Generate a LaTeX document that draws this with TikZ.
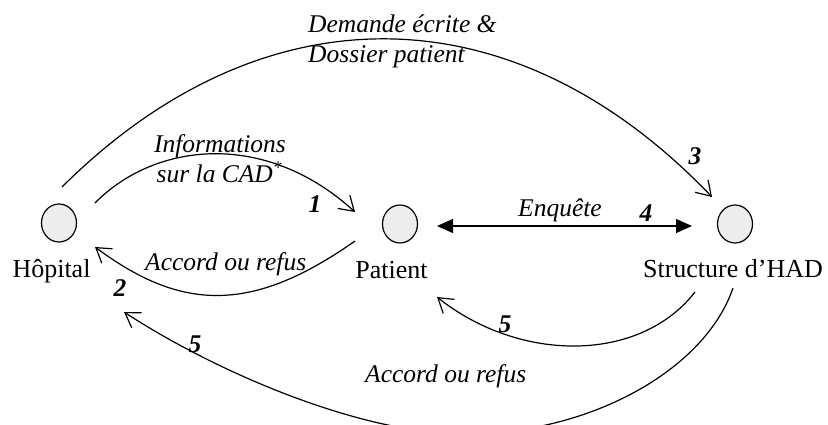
\documentclass[tikz,border=0pt]{standalone}
\usepackage{fontspec}
\setmainfont{Liberation Serif}
\usetikzlibrary{arrows.meta,calc,shapes.geometric}
\begin{document}
\begin{tikzpicture}[x=1pt,y=-1pt,
  place/.style={ellipse, draw, line width=1.2pt, fill=black!7,
    minimum width=35pt, minimum height=38pt, inner sep=0pt},
  actor/.style={font=\fontsize{26}{30}\selectfont, inner sep=0pt, anchor=base},
  says/.style={font=\fontsize{25.5}{30}\selectfont\itshape, inner sep=0pt},
  num/.style={font=\fontsize{25.5}{30}\selectfont\bfseries\itshape, inner sep=0pt, anchor=base},
  flow/.style={line width=1.2pt, -{Straight Barb[length=14pt,width=18pt,line width=1.2pt]}},
  link/.style={line width=1.2pt, {Triangle[length=16pt,width=14pt]}-{Triangle[length=16pt,width=14pt]}}]

\useasboundingbox (0,0) rectangle (828,425);
\clip (0,0) rectangle (828,425);

% the three parties
\node[place] (hop) at (59,223) {};
\node[place] (pat) at (400,224) {};
\node[place] (had) at (735,224) {};

\node[actor] (hopname) at (51.5,277) {Hôpital};
\node[actor] (patname) at (391.5,278) {Patient};
\node[actor] (hadname) at (733,277) {Structure d’HAD};

% 1: information given to the patient
\draw[flow] ($(hop)+(36,-20)$) .. controls (155,142) and (265,130) .. ($(pat)+(-45,-12)$);
\node[says, anchor=base] (info1) at (220,153) {Informations};
\node[says, anchor=base] (info2) at (219.5,183) {sur la CAD\textsuperscript{*}};
\node[num] (n1) at (315,212) {1};

% 2: patient's answer
\draw[flow] ($(pat)+(-45,17)$) .. controls (250,315) and (180,310) .. ($(hop)+(36,24)$);
\node[says, anchor=base west] (ans1) at (145,270) {Accord ou refus};
\node[num] (n2) at (120,296) {2};

% 3: written request to the HAD structure
\draw[flow] ($(hop)+(3,-36)$) .. controls (262,-12) and (512,-12) .. ($(had)+(-23,-27)$);
\node[says, anchor=base west] (req1) at (308,33) {Demande écrite \&};
\node[says, anchor=base west] (req2) at (308,63) {Dossier patient};
\node[num] (n3) at (695,165) {3};

% 4: inquiry between patient and HAD structure
\draw[link] ($(pat)+(37,2)$) -- ($(had)+(-43,2)$);
\node[says, anchor=base west] (inq) at (518,216) {Enquête};
\node[num] (n4) at (646,222) {4};

% 5: decision sent back to the patient and to the hospital
\draw[flow] ($(had)+(-40,68)$) .. controls (640,363) and (520,363) .. ($(pat)+(37,73)$);
\node[num] (n5a) at (505,332) {5};
\draw[flow] ($(had)+(-2,64)$) .. controls (705,370) and (590,434) .. (465,434)
  .. controls (360,434) and (216,372) .. ($(hop)+(65,89)$);
\node[num] (n5b) at (195,352) {5};
\node[says, anchor=base west] (ans2) at (365,382) {Accord ou refus};
\end{tikzpicture}
\end{document}
